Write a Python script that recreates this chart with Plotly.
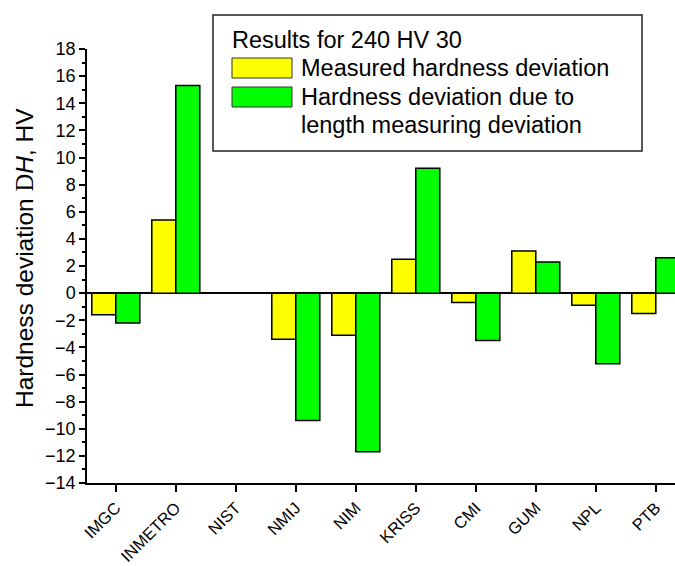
import plotly.graph_objects as go

# Participating laboratories
labs = ["IMGC", "INMETRO", "NIST", "NMIJ", "NIM", "KRISS", "CMI", "GUM", "NPL", "PTB"]
# Measured hardness deviation, HV
measured_dev = [-1.6, 5.4, None, -3.4, -3.1, 2.5, -0.7, 3.1, -0.9, -1.5]
# Hardness deviation due to length measuring deviation, HV
length_dev = [-2.2, 15.3, None, -9.4, -11.7, 9.2, -3.5, 2.3, -5.2, 2.6]

legend_title = "Results for 240 HV 30"
name_measured = "Measured hardness deviation"
name_length = ["Hardness deviation due to", "length measuring deviation"]

W, H = 675, 566
L, R, T, B = 87, 0, 49, 83
PW, PH = W - L - R, H - T - B
FONT = "Liberation Sans, Arial, sans-serif"
YELLOW, GREEN = "#FFFF00", "#00FF00"


def px(x):
    return (x - L) / PW


def py(y):
    return (H - B - y) / PH


fig = go.Figure()
fig.add_trace(go.Bar(x=labs, y=measured_dev, name=name_measured,
                     marker=dict(color=YELLOW, line=dict(color="black", width=1.5))))
fig.add_trace(go.Bar(x=labs, y=length_dev, name=" ".join(name_length),
                     marker=dict(color=GREEN, line=dict(color="black", width=1.5))))

# Framed legend drawn as shapes and text
shapes = [
    dict(type="rect", xref="paper", yref="paper", x0=px(213), x1=px(642), y0=py(151), y1=py(15),
         line=dict(color="#222", width=1.5), fillcolor="white", layer="above"),
    dict(type="rect", xref="paper", yref="paper", x0=px(232), x1=px(292), y0=py(78), y1=py(58),
         line=dict(color="#333", width=1), fillcolor=YELLOW, layer="above"),
    dict(type="rect", xref="paper", yref="paper", x0=px(232), x1=px(292), y0=py(107), y1=py(87),
         line=dict(color="#333", width=1), fillcolor=GREEN, layer="above"),
]

lf = dict(family=FONT, size=23.5, color="black")
annotations = [
    dict(text=legend_title, x=px(230), y=py(40)),
    dict(text=name_measured, x=px(299), y=py(68)),
    dict(text=name_length[0], x=px(299), y=py(97)),
    dict(text=name_length[1], x=px(299), y=py(125)),
]
annotations = [dict(a, xref="paper", yref="paper", xanchor="left", yanchor="middle",
                    showarrow=False, font=lf) for a in annotations]

# Rotated y-axis title
annotations.append(dict(
    text="Hardness deviation <span style='font-family:\"Liberation Serif\", serif'>D</span><i>H</i>, HV",
    xref="paper", yref="paper", x=0, y=py(258), xshift=-63, xanchor="center", yanchor="middle",
    textangle=-90, showarrow=False, font=dict(family=FONT, size=24.5, color="black")))

fig.update_layout(
    width=W, height=H,
    margin=dict(l=L, r=R, t=T, b=B, autoexpand=False),
    paper_bgcolor="white", plot_bgcolor="white",
    showlegend=False,
    barmode="group", bargap=0.2, bargroupgap=0,
    shapes=shapes, annotations=annotations,
    font=dict(family=FONT, color="black"),
)
fig.update_xaxes(
    range=[-0.48, 9.32], showline=True, linecolor="black", linewidth=1.5,
    ticks="outside", ticklen=7, tickwidth=1.5, tickcolor="black",
    tickangle=-45, tickfont=dict(family=FONT, size=16.5, color="black"),
    showgrid=False, zeroline=False, automargin=False,
)
fig.update_yaxes(
    range=[-14, 18], dtick=2, tick0=0, showline=True, linecolor="black", linewidth=1.5,
    ticks="outside", ticklen=6, tickwidth=1.5, tickcolor="black",
    minor=dict(dtick=1, ticks="outside", ticklen=3, tickwidth=1.5, tickcolor="black"),
    tickfont=dict(family=FONT, size=18, color="black"),
    showgrid=False, zeroline=True, zerolinecolor="black", zerolinewidth=1.5,
    automargin=False,
)

fig.write_html("out.html")
